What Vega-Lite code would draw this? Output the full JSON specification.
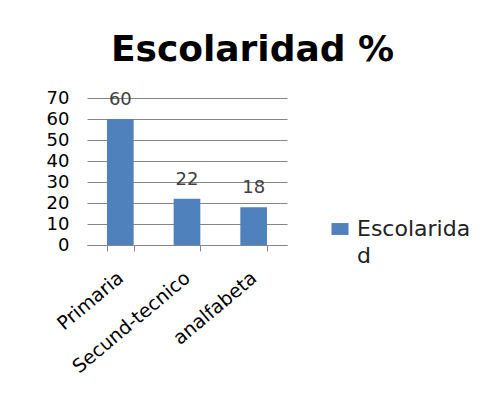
{
  "$schema": "https://vega.github.io/schema/vega-lite/v6.json",
  "width": 209,
  "height": 147,
  "autosize": {"type": "none"},
  "padding": {"left": 78, "top": 98, "right": 215, "bottom": 165},
  "background": "white",
  "config": {"view": {"stroke": null}},
  "title": {
    "text": "Escolaridad %",
    "font": "DejaVu Sans",
    "fontSize": 36,
    "fontWeight": "bold",
    "color": "black",
    "anchor": "middle",
    "dx": 70,
    "offset": 20
  },
  "data": {
    "values": [
      {"nivel": "Primaria", "valor": 60},
      {"nivel": "Secund-tecnico", "valor": 22},
      {"nivel": "analfabeta", "valor": 18}
    ]
  },
  "encoding": {
    "x": {
      "field": "nivel",
      "type": "nominal",
      "sort": null,
      "title": null,
      "scale": {"range": [9, 209], "paddingInner": 0.6, "paddingOuter": 0.3},
      "axis": {
        "labelAngle": -40,
        "labelAlign": "right",
        "labelBaseline": "middle",
        "labelFont": "DejaVu Sans",
        "labelFontSize": 19,
        "labelColor": "black",
        "labelPadding": 24,
        "domainColor": "#868686",
        "tickColor": "#868686",
        "tickSize": 6,
        "tickBand": "extent",
        "grid": false
      }
    },
    "y": {
      "field": "valor",
      "type": "quantitative",
      "title": null,
      "scale": {"domain": [0, 70], "nice": false},
      "axis": {
        "values": [0, 10, 20, 30, 40, 50, 60, 70],
        "domain": false,
        "ticks": false,
        "labelPadding": 9,
        "labelFont": "DejaVu Sans",
        "labelFontSize": 18,
        "labelColor": "black",
        "gridColor": "#868686",
        "gridWidth": 1
      }
    }
  },
  "layer": [
    {
      "mark": {"type": "bar"},
      "encoding": {
        "color": {
          "datum": "Escolaridad",
          "scale": {"range": ["#4F81BD"]},
          "legend": {
            "orient": "none",
            "legendX": 251,
            "legendY": 120,
            "title": null,
            "padding": 0,
            "symbolType": "M-1,-0.7H1V0.7H-1Z",
            "symbolSize": 289,
            "symbolStrokeWidth": 0,
            "labelExpr": "['Escolarida', 'd']",
            "labelFont": "DejaVu Sans",
            "labelFontSize": 22,
            "labelColor": "#222222",
            "labelOffset": 6,
            "labelLimit": 300,
            "encode": {
              "labels": {"update": {"lineHeight": {"value": 27}}}
            }
          }
        }
      }
    },
    {
      "mark": {
        "type": "text",
        "baseline": "alphabetic",
        "dy": -14,
        "font": "DejaVu Sans",
        "fontSize": 18,
        "color": "#404040"
      },
      "encoding": {
        "text": {"field": "valor", "type": "quantitative"}
      }
    }
  ]
}
